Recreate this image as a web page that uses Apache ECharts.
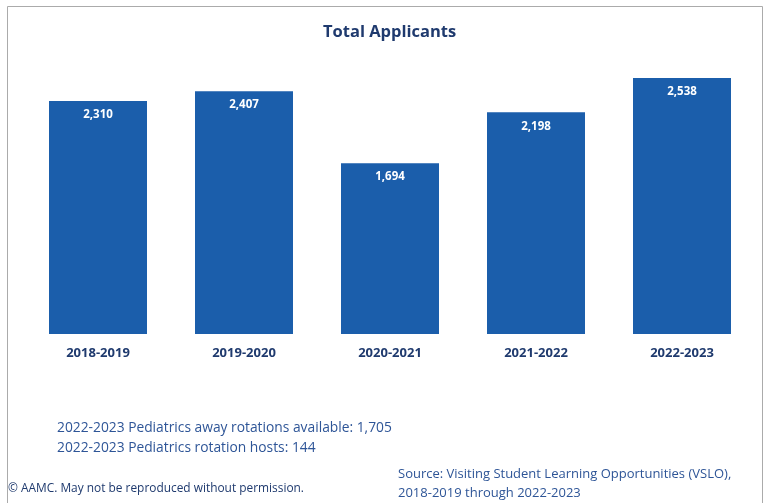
<!DOCTYPE html>
<html><head><meta charset="utf-8">
<script src="https://cdn.jsdelivr.net/npm/echarts@6/dist/echarts.min.js"></script>
<style>html,body{margin:0;padding:0;background:#fff}#c{width:767px;height:503px}</style>
</head><body><div id="c"></div>
<script>
const categories = ['2018-2019','2019-2020','2020-2021','2021-2022','2022-2023'];
const applicants = [2310, 2407, 1694, 2198, 2538];
const titleText = 'Total Applicants';
const noteLines = ['2022-2023 Pediatrics away rotations available: 1,705', '2022-2023 Pediatrics rotation hosts: 144'];
const copyrightText = '\u00A9 AAMC. May not be reproduced without permission.';
const sourceLines = ['Source: Visiting Student Learning Opportunities (VSLO),', '2018-2019 through 2022-2023'];

const chart = echarts.init(document.getElementById('c'), null, {renderer:'canvas'});
const FONT = 'Open Sans';
chart.setOption({
  animation: false,
  backgroundColor: '#fff',
  title: {text: titleText, left: 318, top: 19,
    textStyle: {fontFamily: FONT, fontSize: 16.5, fontWeight: 'bold', color: '#1F3A6E'}},
  grid: {left: 25, right: 12, top: 31.4, bottom: 169},
  xAxis: {type: 'category', data: categories,
    axisLine: {show: false}, axisTick: {show: false},
    axisLabel: {margin: 13, fontFamily: FONT, fontSize: 13, fontWeight: 'bold', color: '#1F3A6E'}},
  yAxis: {type: 'value', min: 0, max: 3000, show: false, splitLine: {show: false}},
  series: [{type: 'bar', data: applicants, barWidth: 98,
    itemStyle: {color: '#1B5EAB'},
    label: {show: true, position: 'insideTop', distance: 8, formatter: p => p.value.toLocaleString('en-US'),
      fontFamily: FONT, fontSize: 11.5, fontWeight: 'bold', color: '#fff'}}],
  graphic: [
    {type: 'polyline', shape: {points: [[7.5,503],[7.5,6.5],[762.5,6.5],[762.5,503]]}, style: {stroke: '#ababab', lineWidth: 1, fill: null}},
    {type: 'text', left: 57, top: 418, style: {text: noteLines.join('\n'), lineHeight: 20, fontFamily: FONT, fontSize: 13.8, fill: '#2E5597'}},
    {type: 'text', left: 8, top: 483, style: {text: copyrightText, fontFamily: FONT, fontSize: 11.9, fill: '#1F3A6E'}},
    {type: 'text', left: 398, top: 465, style: {text: sourceLines.join('\n'), lineHeight: 19, fontFamily: FONT, fontSize: 13, fill: '#2E5597'}}
  ]
});
</script></body></html>
